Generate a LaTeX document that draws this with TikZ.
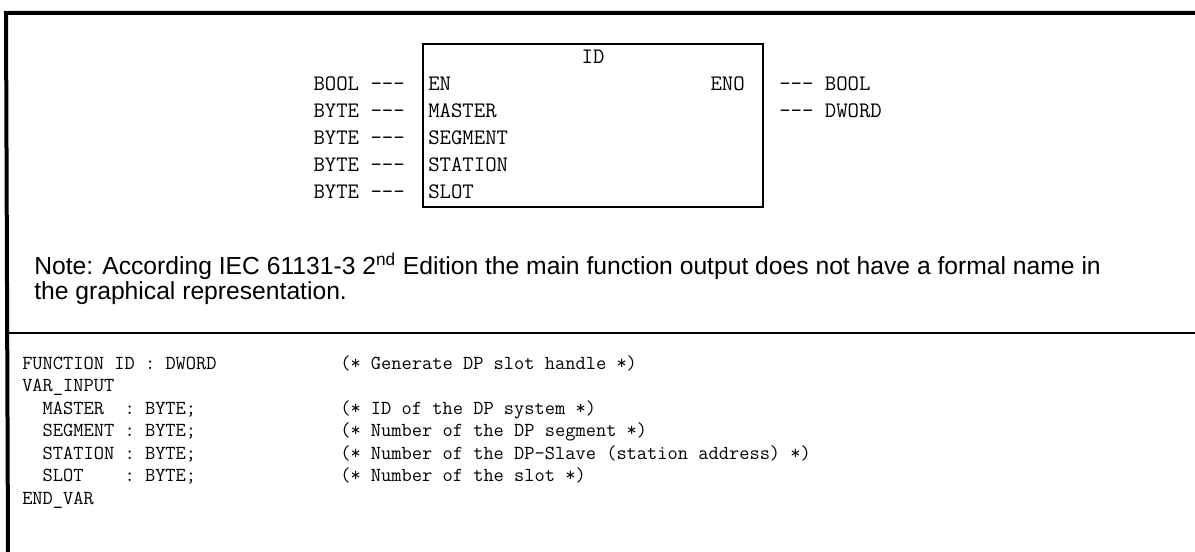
\documentclass[tikz,border=0pt]{standalone}
\usepackage{fontspec}
\setmainfont{Liberation Sans}
\setmonofont{Latin Modern Mono}
\usetikzlibrary{positioning}

\begin{document}
\begin{tikzpicture}[x=0.75pt, y=-0.75pt,
    pintext/.style={font=\ttfamily\fontsize{16.6}{20}\selectfont, inner sep=0pt},
    codetext/.style={font=\ttfamily\fontsize{14.9}{18}\selectfont, inner sep=0pt, anchor=base west},
    notetext/.style={font=\fontsize{18.5}{22}\selectfont, inner sep=0pt, anchor=base west},
    framerule/.style={line width=3pt},
  ]
  \useasboundingbox (0,0) rectangle (1195,552);

  % frame round the table cell
  \draw[framerule] (1195,13) -- (6,13) -- (8,552);
  \draw[line width=2.2pt] (8,333) -- (1195,333);

  % function block ID
  \draw[line width=1.5pt] (423,44) rectangle (763,207);
  \node[pintext] (fbname) at (593,57) {ID};
  \foreach \pin/\type [count=\i from 0] in {EN/BOOL, MASTER/BYTE, SEGMENT/BYTE, STATION/BYTE, SLOT/BYTE} {
    \node[pintext, anchor=west] (in\i) at (428, {84+27*\i}) {\pin};
    \node[pintext, anchor=east] (intype\i) at (405, {84+27*\i}) {\type\ ---};
  }
  \node[pintext, anchor=east] (eno) at (745,84) {ENO};
  \node[pintext, anchor=west] (enotype) at (779,84) {--- BOOL};
  \node[pintext, anchor=west] (outtype) at (779,111) {--- DWORD};

  % note below the block
  \node[notetext] (note1) at (34,274) {Note: According IEC 61131-3 2\textsuperscript{nd} Edition the main function output does not have a formal name in};
  \node[notetext] (note2) at (34,299) {the graphical representation.};

  % declaration in structured text
  \foreach \decl/\cmt [count=\i from 0] in {
      {FUNCTION ID : DWORD}/{(* Generate DP slot handle *)},
      {VAR\_INPUT}/{},
      {~~MASTER~~: BYTE;}/{(* ID of the DP system *)},
      {~~SEGMENT : BYTE;}/{(* Number of the DP segment *)},
      {~~STATION : BYTE;}/{(* Number of the DP-Slave (station address) *)},
      {~~SLOT~~~~: BYTE;}/{(* Number of the slot *)},
      {END\_VAR}/{}} {
    \node[codetext] (decl\i) at (22, {369+22.5*\i}) {\decl};
    \node[codetext] (cmt\i) at (340, {369+22.5*\i}) {\cmt};
  }
\end{tikzpicture}
\end{document}
